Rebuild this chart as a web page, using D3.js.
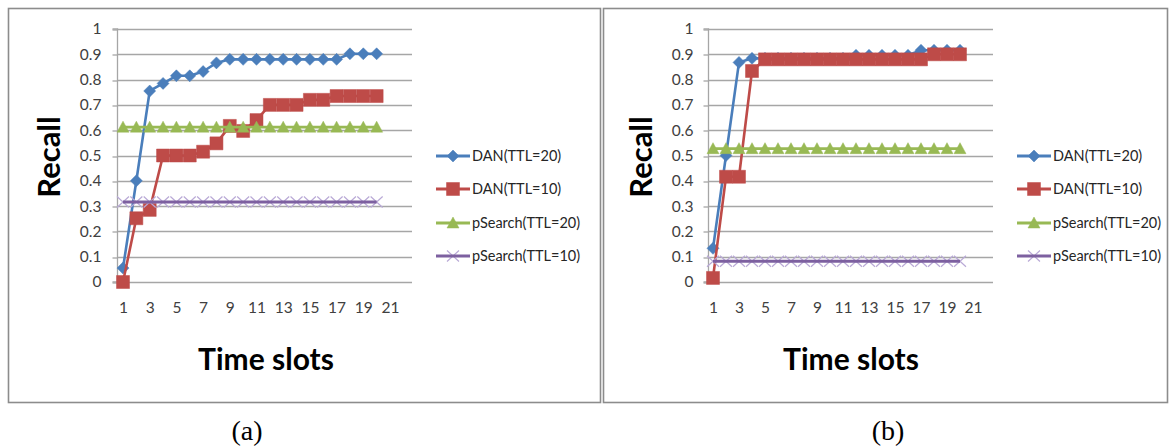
<!DOCTYPE html>
<html>
<head>
<meta charset="utf-8">
<script src="https://cdn.jsdelivr.net/npm/d3@7"></script>
<style>
  html, body { margin: 0; padding: 0; background: #ffffff; }
  svg { display: block; }
</style>
</head>
<body>
<svg id="chart" width="1171" height="446"></svg>
<script>
// ---- data -------------------------------------------------------------
const timeSlots = [1, 2, 3, 4, 5, 6, 7, 8, 9, 10, 11, 12, 13, 14, 15, 16, 17, 18, 19, 20];
const xTickValues = [1, 3, 5, 7, 9, 11, 13, 15, 17, 19, 21];
const yTickValues = [0, 0.1, 0.2, 0.3, 0.4, 0.5, 0.6, 0.7, 0.8, 0.9, 1];
const yTickLabels = ["0", "0.1", "0.2", "0.3", "0.4", "0.5", "0.6", "0.7", "0.8", "0.9", "1"];
const seriesNames = ["DAN(TTL=20)", "DAN(TTL=10)", "pSearch(TTL=20)", "pSearch(TTL=10)"];
const panelCaptions = ["(a)", "(b)"];
const yAxisTitle = "Recall";
const xAxisTitle = "Time slots";

// panel (a)
const danTtl20A = [0.055, 0.40, 0.755, 0.785, 0.815, 0.815, 0.832, 0.866, 0.88, 0.88,
                   0.88, 0.88, 0.88, 0.88, 0.88, 0.88, 0.88, 0.902, 0.902, 0.902];
const danTtl10A = [0.0, 0.252, 0.285, 0.50, 0.50, 0.50, 0.515, 0.548, 0.617, 0.597,
                   0.64, 0.70, 0.70, 0.70, 0.72, 0.72, 0.735, 0.735, 0.735, 0.735];
const pSearchTtl20A = [0.612, 0.612, 0.612, 0.612, 0.612, 0.612, 0.612, 0.612, 0.612, 0.612,
                       0.612, 0.612, 0.612, 0.612, 0.612, 0.612, 0.612, 0.612, 0.612, 0.612];
const pSearchTtl10A = [0.316, 0.316, 0.316, 0.316, 0.316, 0.316, 0.316, 0.316, 0.316, 0.316,
                       0.316, 0.316, 0.316, 0.316, 0.316, 0.316, 0.316, 0.316, 0.316, 0.316];

// panel (b)
const danTtl20B = [0.133, 0.50, 0.868, 0.884, 0.884, 0.884, 0.884, 0.884, 0.884, 0.884,
                   0.884, 0.896, 0.896, 0.896, 0.896, 0.896, 0.916, 0.916, 0.916, 0.916];
const danTtl10B = [0.016, 0.416, 0.416, 0.834, 0.88, 0.88, 0.88, 0.88, 0.88, 0.88,
                   0.88, 0.88, 0.88, 0.88, 0.88, 0.88, 0.88, 0.90, 0.90, 0.90];
const pSearchTtl20B = [0.527, 0.527, 0.527, 0.527, 0.527, 0.527, 0.527, 0.527, 0.527, 0.527,
                       0.527, 0.527, 0.527, 0.527, 0.527, 0.527, 0.527, 0.527, 0.527, 0.527];
const pSearchTtl10B = [0.082, 0.082, 0.082, 0.082, 0.082, 0.082, 0.082, 0.082, 0.082, 0.082,
                       0.082, 0.082, 0.082, 0.082, 0.082, 0.082, 0.082, 0.082, 0.082, 0.082];

// ---- styling and layout ------------------------------------------------
const seriesStyles = [
  { color: "#4A7EBB", marker: "diamond" },
  { color: "#BE4B48", marker: "square" },
  { color: "#98B954", marker: "triangle" },
  { color: "#7D60A0", marker: "cross", markerColor: "#B9A9D6" }
];

const panels = [
  {
    values: [danTtl20A, danTtl10A, pSearchTtl20A, pSearchTtl10A],
    frame: { x: 8, y: 8, w: 592, h: 394 },
    axisX: 117, gridEnd: 412, xFirst: 123, xLast: 390,
    tickRight: 101, yTitleX: 60, xTitleX: 266, captionX: 247, legendX: 436,
    caption: panelCaptions[0]
  },
  {
    values: [danTtl20B, danTtl10B, pSearchTtl20B, pSearchTtl10B],
    frame: { x: 603, y: 8, w: 564, h: 394 },
    axisX: 708, gridEnd: 993, xFirst: 713, xLast: 973,
    tickRight: 693, yTitleX: 652, xTitleX: 851, captionX: 888, legendX: 1017,
    caption: panelCaptions[1]
  }
];

const yTop = 29, yBottom = 282;
const legendRows = [156, 189, 223, 256];
const uiFont = "Lato, 'Open Sans', sans-serif";

const svg = d3.select("#chart");

// marker path generators, centred on the origin
function markerPath(kind) {
  switch (kind) {
    case "diamond": return "M0,-6L6,0L0,6L-6,0Z";
    case "square":  return d3.symbol(d3.symbolSquare, 169)();
    case "triangle":return "M0,-6L6,5L-6,5Z";
    case "cross":   return "M-6,-5.5L6,5.5M-6,5.5L6,-5.5";
  }
}

function drawMarker(g, kind, style, x, y) {
  const p = g.append("path")
    .attr("d", markerPath(kind))
    .attr("transform", `translate(${x},${y})`);
  if (kind === "cross") {
    p.attr("fill", "none").attr("stroke", style.markerColor).attr("stroke-width", 1.2);
  } else {
    p.attr("fill", style.color).attr("stroke", style.color).attr("stroke-width", 0.5);
  }
}

panels.forEach(panel => {
  const g = svg.append("g");

  // frame around the panel
  g.append("rect")
    .attr("x", panel.frame.x + 0.5).attr("y", panel.frame.y + 0.5)
    .attr("width", panel.frame.w).attr("height", panel.frame.h)
    .attr("fill", "#ffffff").attr("stroke", "#8c8c8c").attr("stroke-width", 1.6);

  const x = d3.scaleLinear().domain([1, 21]).range([panel.xFirst, panel.xLast]);
  const y = d3.scaleLinear().domain([0, 1]).range([yBottom, yTop]);

  // horizontal gridlines
  g.append("g").selectAll("line").data(yTickValues).join("line")
    .attr("x1", panel.axisX).attr("x2", panel.gridEnd)
    .attr("y1", d => Math.round(y(d)) + 0.5).attr("y2", d => Math.round(y(d)) + 0.5)
    .attr("stroke", "#a6a6a6").attr("stroke-width", 1.3);

  // y axis with outward ticks
  const yAxis = d3.axisLeft(y).tickValues(yTickValues)
    .tickFormat((d, i) => yTickLabels[i]).tickSize(5).tickPadding(panel.axisX - panel.tickRight - 5);
  const ya = g.append("g").attr("transform", `translate(${panel.axisX + 0.5},0)`).call(yAxis);
  ya.select(".domain").attr("stroke", "#a6a6a6").attr("stroke-width", 1.3)
    .attr("d", `M-5,${yBottom}H0V${yTop}H-5`);
  ya.selectAll(".tick line").attr("stroke", "#a6a6a6").attr("stroke-width", 1.3)
    .attr("transform", (d) => `translate(0,${Math.round(y(d)) + 0.5 - y(d)})`);
  ya.selectAll(".tick text").attr("font-family", uiFont).attr("font-size", 15.5).attr("fill", "#404040");

  // x axis labels only
  const xAxis = d3.axisBottom(x).tickValues(xTickValues).tickSize(0).tickPadding(20);
  const xa = g.append("g").attr("transform", `translate(0,${yBottom})`).call(xAxis);
  xa.select(".domain").remove();
  xa.selectAll(".tick text").attr("font-family", uiFont).attr("font-size", 15.5).attr("fill", "#404040");

  // series: line then markers; the cross markers sit under their line
  panel.values.forEach((vals, si) => {
    const style = seriesStyles[si];
    const pts = timeSlots.map((t, i) => [x(t), y(vals[i])]);
    const sg = g.append("g");
    const line = d3.line();
    if (style.marker === "cross") {
      pts.forEach(p => drawMarker(sg, style.marker, style, p[0], p[1]));
      sg.append("path").attr("d", line(pts)).attr("fill", "none")
        .attr("stroke", style.color).attr("stroke-width", 3);
    } else {
      sg.append("path").attr("d", line(pts)).attr("fill", "none")
        .attr("stroke", style.color).attr("stroke-width", 2.6).attr("stroke-linejoin", "round");
      pts.forEach(p => drawMarker(sg, style.marker, style, p[0], p[1]));
    }
  });

  // legend
  seriesNames.forEach((name, si) => {
    const style = seriesStyles[si];
    const ly = legendRows[si];
    const lg = g.append("g");
    if (style.marker === "cross") drawMarker(lg, style.marker, style, panel.legendX + 17, ly);
    lg.append("line").attr("x1", panel.legendX).attr("x2", panel.legendX + 34)
      .attr("y1", ly).attr("y2", ly).attr("stroke", style.color).attr("stroke-width", 3);
    if (style.marker !== "cross") drawMarker(lg, style.marker, style, panel.legendX + 17, ly);
    lg.append("text").attr("x", panel.legendX + 36).attr("y", ly + 5)
      .attr("font-family", uiFont).attr("font-size", 14.5).attr("fill", "#262626")
      .text(name);
  });

  // axis titles
  g.append("text")
    .attr("transform", `translate(${panel.yTitleX},157) rotate(-90)`)
    .attr("text-anchor", "middle")
    .attr("font-family", uiFont).attr("font-weight", "bold").attr("font-size", 31)
    .attr("fill", "#000").text(yAxisTitle);
  g.append("text")
    .attr("x", panel.xTitleX).attr("y", 370)
    .attr("text-anchor", "middle")
    .attr("font-family", uiFont).attr("font-weight", "bold").attr("font-size", 30)
    .attr("fill", "#000").text(xAxisTitle);

  // caption beneath the panel
  svg.append("text")
    .attr("x", panel.captionX).attr("y", 440)
    .attr("text-anchor", "middle")
    .attr("font-family", "'Liberation Serif', 'Times New Roman', serif").attr("font-size", 28)
    .attr("fill", "#000").text(panel.caption);
});
</script>
</body>
</html>
